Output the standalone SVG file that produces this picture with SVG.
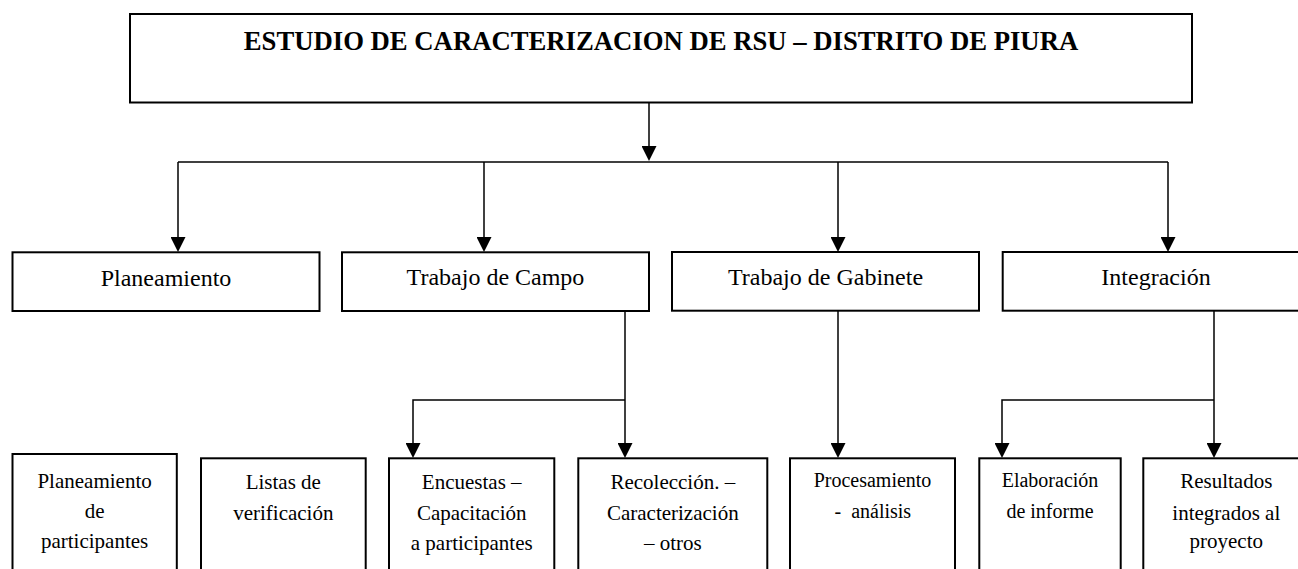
<svg xmlns="http://www.w3.org/2000/svg" width="1298" height="569" viewBox="0 0 1298 569">
<defs>
<marker id="arr" viewBox="0 0 10 10" refX="8" refY="5" markerWidth="15" markerHeight="15" markerUnits="userSpaceOnUse" orient="auto">
<path d="M0,0 L10,5 L0,10 z" fill="#000"/>
</marker>
<style>
.box{fill:#fff;stroke:#000;stroke-width:2}
.t{font-family:"Liberation Serif","Times New Roman",serif;fill:#000;text-anchor:middle;white-space:pre}
.title{font-size:26.7px;font-weight:bold}
.mid{font-size:24px}
.s21{font-size:21px}
.s20{font-size:20px}
.c{fill:none;stroke:#000;stroke-width:1.5}
.a{marker-end:url(#arr)}
</style>
</defs>
<rect width="1298" height="569" fill="#fff"/>

<g id="connectors">
<line class="c a" x1="649" y1="103" x2="649" y2="158"/>
<line class="c" x1="178" y1="162" x2="1168" y2="162"/>
<line class="c a" x1="178" y1="162" x2="178" y2="249"/>
<line class="c a" x1="484" y1="162" x2="484" y2="249"/>
<line class="c a" x1="838" y1="162" x2="838" y2="249"/>
<line class="c a" x1="1168" y1="162" x2="1168" y2="249"/>
<line class="c a" x1="625" y1="311" x2="625" y2="455"/>
<polyline class="c a" points="625,400 413,400 413,455"/>
<line class="c a" x1="838" y1="311" x2="838" y2="455"/>
<line class="c a" x1="1214" y1="311" x2="1214" y2="455"/>
<polyline class="c a" points="1214,400 1002,400 1002,455"/>
</g>

<g id="title">
<rect class="box" x="130" y="14" width="1062" height="88.5"/>
<text class="t title" x="661" y="50">ESTUDIO DE CARACTERIZACION DE RSU – DISTRITO DE PIURA</text>
</g>

<g id="planeamiento">
<rect class="box" x="12.5" y="252.3" width="307" height="58.7"/>
<text class="t mid" x="166" y="285.5">Planeamiento</text>
</g>
<g id="trabajo-campo">
<rect class="box" x="342" y="252.3" width="307" height="58.7"/>
<text class="t mid" x="495.5" y="285">Trabajo de Campo</text>
</g>
<g id="trabajo-gabinete">
<rect class="box" x="672" y="252" width="307" height="58.7"/>
<text class="t mid" x="825.5" y="284.5">Trabajo de Gabinete</text>
</g>
<g id="integracion">
<rect class="box" x="1002.7" y="252" width="307" height="58.7"/>
<text class="t mid" x="1156" y="284.5">Integración</text>
</g>

<g id="planeamiento-participantes">
<rect class="box" x="12.5" y="454" width="164.3" height="140"/>
<text class="t s21" x="94.6" y="487.7">Planeamiento</text>
<text class="t s21" x="94.6" y="517.7">de</text>
<text class="t s21" x="94.6" y="548">participantes</text>
</g>
<g id="listas">
<rect class="box" x="201" y="458.3" width="164.7" height="140"/>
<text class="t s21" x="283.3" y="489.3">Listas de</text>
<text class="t s21" x="283.3" y="520">verificación</text>
</g>
<g id="encuestas">
<rect class="box" x="389" y="458.3" width="165.3" height="140"/>
<text class="t s21" x="471.7" y="489.3">Encuestas –</text>
<text class="t s21" x="471.7" y="520">Capacitación</text>
<text class="t s21" x="471.7" y="550">a participantes</text>
</g>
<g id="recoleccion">
<rect class="box" x="578.3" y="458.3" width="189" height="140"/>
<text class="t s21" x="672.8" y="489.3">Recolección. –</text>
<text class="t s21" x="672.8" y="520">Caracterización</text>
<text class="t s21" x="672.8" y="550">– otros</text>
</g>
<g id="procesamiento">
<rect class="box" x="790" y="458.3" width="165" height="140"/>
<text class="t s20" x="872.5" y="486.7">Procesamiento</text>
<text class="t s20" x="872.8" y="518">-  análisis</text>
</g>
<g id="elaboracion">
<rect class="box" x="979.3" y="458.3" width="141.4" height="140"/>
<text class="t s20" x="1050" y="486.7">Elaboración</text>
<text class="t s20" x="1050" y="518">de informe</text>
</g>
<g id="resultados">
<rect class="box" x="1143.3" y="458.3" width="166" height="140"/>
<text class="t s21" x="1226.3" y="487.7">Resultados</text>
<text class="t s21" x="1226.3" y="520">integrados al</text>
<text class="t s21" x="1226.3" y="548">proyecto</text>
</g>
</svg>
